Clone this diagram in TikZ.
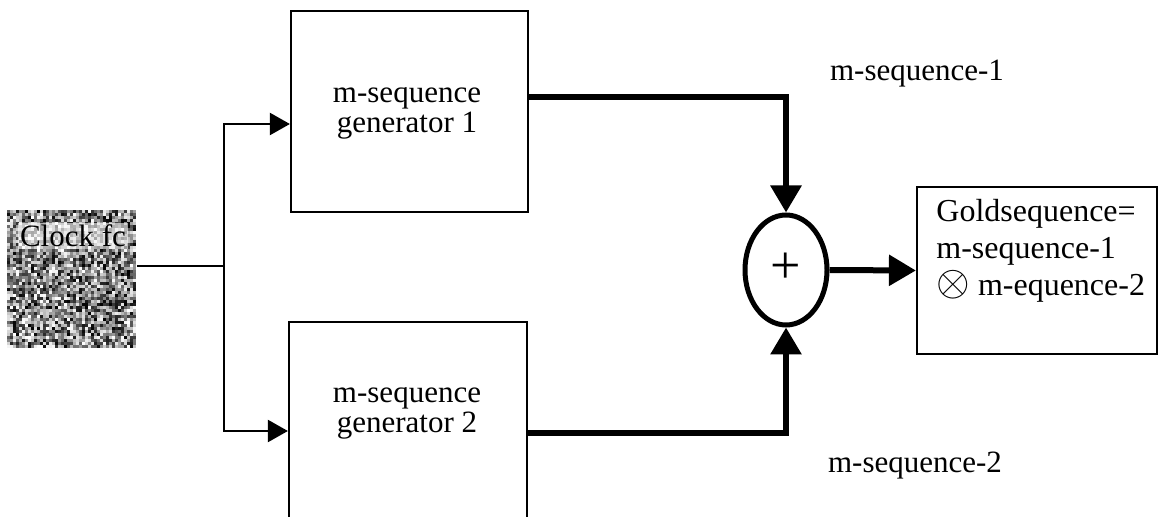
\documentclass[tikz,border=0pt]{standalone}
\usepackage{fontspec}
\setmainfont{Liberation Serif}
\usetikzlibrary{arrows.meta,shapes.geometric,calc}
\begin{document}
\begin{tikzpicture}[x=0.5pt,y=-0.5pt,
  blk/.style={draw, line width=1.1pt, rectangle, inner sep=0pt},
  txt/.style={font=\fontsize{15.5}{15}\selectfont, align=center, inner sep=0pt},
  lbl/.style={font=\fontsize{15.5}{18.5}\selectfont, inner sep=0pt},
  thinline/.style={line width=1.1pt},
  thinarrow/.style={line width=1.1pt, -{Triangle[length=10pt,width=11pt]}},
  thickarrow/.style={line width=3pt, -{Triangle[length=13.5pt,width=15pt]}}]
\useasboundingbox (0,0) rectangle (1159,517);
\fill[white] (0,0) rectangle (1159,517);
\clip (0,0) rectangle (1159,517);

% clock source: grainy grey block
\pgfmathsetseed{11}
\foreach \i in {0,...,42}{
  \foreach \j in {0,...,45}{
    \pgfmathsetmacro\g{int(100*rnd)}
    \fill[black!\g] ({7+3*\i},{210+3*\j}) rectangle ++(3,3);
  }
}
\node[minimum width=65pt, minimum height=68.5pt, inner sep=0pt] (clock) at (72,278.5) {};
\node[txt, fill=white, fill opacity=0.6, text opacity=1, inner sep=1pt] (clocktxt) at (73,236) {Clock fc};

% generators
\node[blk, minimum width=118.5pt, minimum height=100.5pt] (gen1) at (409.5,111.5) {};
\node[txt] (gen1txt) at (407,113) {m-sequence\\generator 1};
\node[blk, minimum width=119pt, minimum height=109pt] (gen2) at (408,431) {};
\node[txt] (gen2txt) at (407,413) {m-sequence\\generator 2};

% modulo-2 adder
\node[draw, ellipse, line width=2.5pt, minimum width=41pt, minimum height=55pt, inner sep=0pt] (sum) at (786,270) {};
\node[font=\fontsize{27}{27}\selectfont, inner sep=0pt] (plus) at (786,268) {+};

% output block
\node[blk, minimum width=120pt, minimum height=83.5pt] (gold) at (1037,270.5) {};
\node[font=\fontsize{16}{18.5}\selectfont, inner sep=0pt, anchor=north west, align=left] (goldtxt) at (936,199)
  {Goldsequence=\\m-sequence-1\\\scalebox{1.25}{$\otimes$} m-equence-2};

% signal names
\node[lbl] (s1) at (917,74) {m-sequence-1};
\node[lbl] (s2) at (915,466) {m-sequence-2};

% clock distribution
\coordinate (jn) at (224,266);
\draw[thinline] (jn -| clock.east) -- (jn);
\draw[thinarrow] (jn) |- ([yshift=-6.25pt]gen1.west);
\draw[thinarrow] (jn) |- (gen2.west);

% sequences into the adder
\draw[thickarrow] ([yshift=7.25pt]gen1.east) -| (sum.north);
\draw[thickarrow] ([yshift=-1pt]gen2.east) -| (sum.south);
\draw[thickarrow] (sum.east) -- (gold.west);
\end{tikzpicture}
\end{document}
